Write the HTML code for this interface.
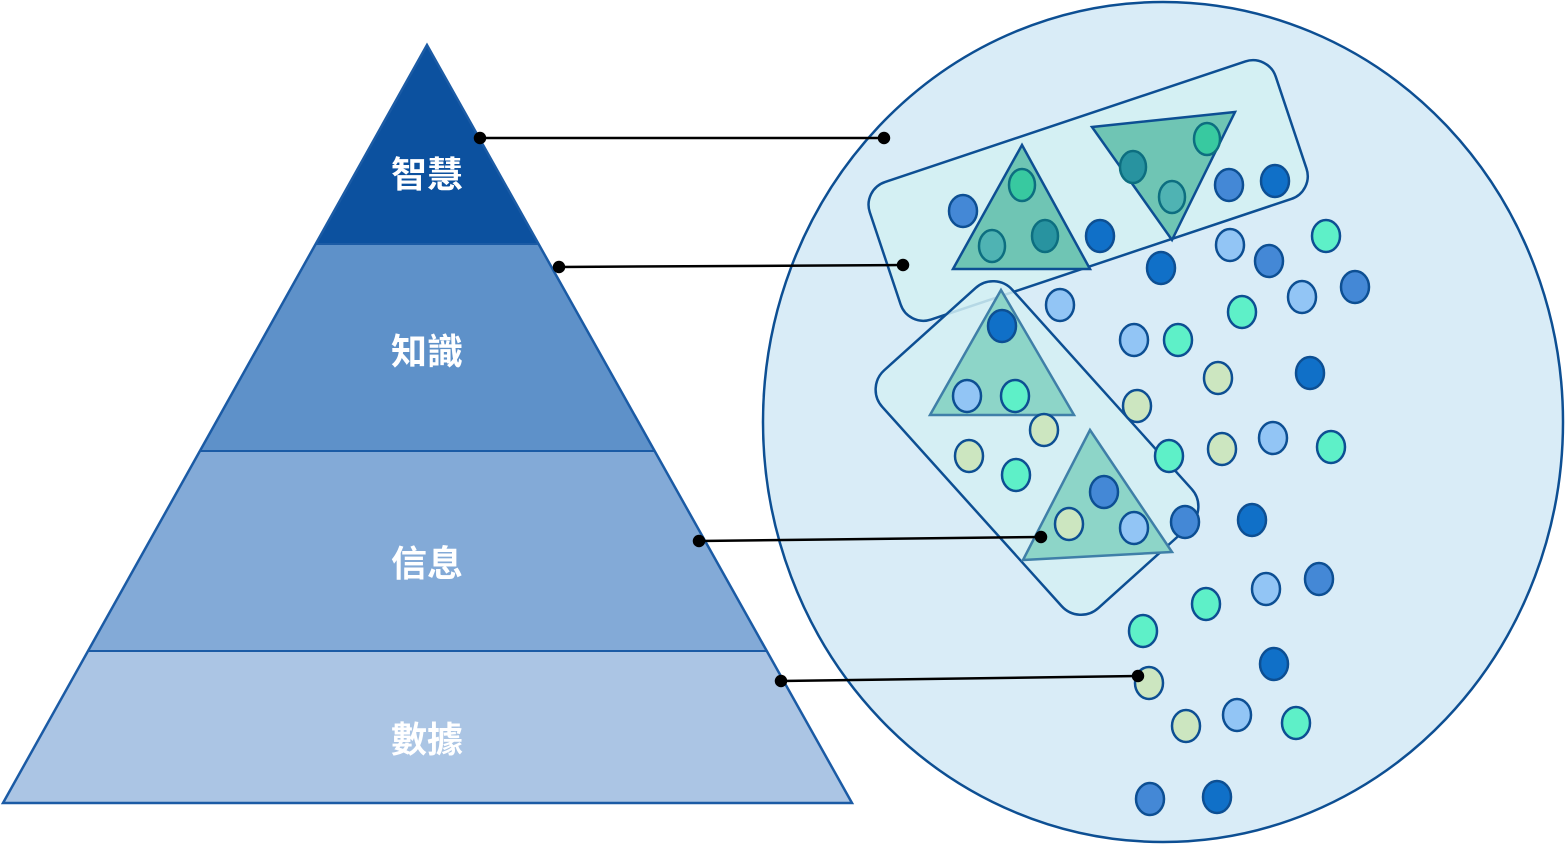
<!DOCTYPE html>
<html><head><meta charset="utf-8"><style>
html,body{margin:0;padding:0;background:#fff;}
svg text{font-family:"Liberation Sans","Noto Sans CJK TC",sans-serif;font-weight:bold;fill:#fff;font-size:36px;text-anchor:middle;}
</style></head><body>
<svg width="1565" height="844" viewBox="0 0 1565 844" xmlns="http://www.w3.org/2000/svg">
<defs>
<clipPath id="pc"><polygon points="427,45 3,803 852,803"/></clipPath>
</defs>
<g clip-path="url(#pc)">
<rect x="0" y="40" width="860" height="204" fill="#0c519f"/>
<rect x="0" y="244" width="860" height="207" fill="#5e91c9"/>
<rect x="0" y="451" width="860" height="200" fill="#83aad7"/>
<rect x="0" y="651" width="860" height="155" fill="#abc5e4"/>
<line x1="0" y1="244" x2="860" y2="244" stroke="#1b5ba5" stroke-width="2"/>
<line x1="0" y1="451" x2="860" y2="451" stroke="#1b5ba5" stroke-width="2"/>
<line x1="0" y1="651" x2="860" y2="651" stroke="#1b5ba5" stroke-width="2"/>
</g>
<polygon points="427,45 3,803 852,803" fill="none" stroke="#1b5ba5" stroke-width="2.5"/>
<text x="427" y="187">智慧</text>
<text x="427" y="364">知識</text>
<text x="427" y="576">信息</text>
<text x="427" y="752">數據</text>

<ellipse cx="1163" cy="422" rx="400" ry="420" fill="#d9ecf7" stroke="#0d4f93" stroke-width="2.5"/>
<rect x="874" y="118" width="428" height="145" rx="24" transform="rotate(-18.5 1088 190)" fill="#d4f0f3" stroke="#0d4f93" stroke-width="2.5"/>
<rect x="877" y="360.5" width="320" height="175" rx="26" transform="rotate(48 1037 448)" fill="#d4f0f3" fill-opacity="0.85" stroke="#0d4f93" stroke-width="2.5"/>

<g stroke="#0d4f93" stroke-width="2.5">
<polygon points="1022,145 953,269 1090,269" fill="#6fc5b4"/>
<polygon points="1092,127 1235,112 1172,240" fill="#6fc5b4"/>
</g>
<g stroke="#3f7fa8" stroke-width="2.5" fill="#8dd5c8">
<polygon points="1001,290 930,415 1074,415"/>
<polygon points="1090,430 1023,560 1172,552"/>
</g>

<g stroke-width="2.5">
<g fill="#4488d6" stroke="#0d4f93">
<ellipse cx="963" cy="211" rx="14" ry="16"/><ellipse cx="1229" cy="185" rx="14" ry="16"/><ellipse cx="1269" cy="261" rx="14" ry="16"/><ellipse cx="1355" cy="287" rx="14" ry="16"/><ellipse cx="1104" cy="492" rx="14" ry="16"/><ellipse cx="1185" cy="522" rx="14" ry="16"/><ellipse cx="1319" cy="579" rx="14" ry="16"/><ellipse cx="1150" cy="799" rx="14" ry="16"/>
</g>
<g fill="#1070c8" stroke="#0d4f93">
<ellipse cx="1100" cy="236" rx="14" ry="16"/><ellipse cx="1275" cy="181" rx="14" ry="16"/><ellipse cx="1161" cy="268" rx="14" ry="16"/><ellipse cx="1002" cy="326" rx="14" ry="16"/><ellipse cx="1310" cy="373" rx="14" ry="16"/><ellipse cx="1252" cy="520" rx="14" ry="16"/><ellipse cx="1274" cy="664" rx="14" ry="16"/><ellipse cx="1217" cy="797" rx="14" ry="16"/>
</g>
<g fill="#92c5f5" stroke="#0d4f93">
<ellipse cx="1230" cy="245" rx="14" ry="16"/><ellipse cx="1302" cy="297" rx="14" ry="16"/><ellipse cx="1060" cy="305" rx="14" ry="16"/><ellipse cx="1134" cy="340" rx="14" ry="16"/><ellipse cx="967" cy="396" rx="14" ry="16"/><ellipse cx="1273" cy="438" rx="14" ry="16"/><ellipse cx="1134" cy="528" rx="14" ry="16"/><ellipse cx="1266" cy="589" rx="14" ry="16"/><ellipse cx="1237" cy="715" rx="14" ry="16"/>
</g>
<g fill="#5ef0c8" stroke="#0d4f93">
<ellipse cx="1326" cy="236" rx="14" ry="16"/><ellipse cx="1242" cy="312" rx="14" ry="16"/><ellipse cx="1178" cy="340" rx="14" ry="16"/><ellipse cx="1015" cy="396" rx="14" ry="16"/><ellipse cx="1016" cy="475" rx="14" ry="16"/><ellipse cx="1169" cy="456" rx="14" ry="16"/><ellipse cx="1331" cy="447" rx="14" ry="16"/><ellipse cx="1206" cy="604" rx="14" ry="16"/><ellipse cx="1143" cy="631" rx="14" ry="16"/><ellipse cx="1296" cy="723" rx="14" ry="16"/>
</g>
<g fill="#cce6c0" stroke="#0d4f93">
<ellipse cx="1044" cy="430" rx="14" ry="16"/><ellipse cx="969" cy="456" rx="14" ry="16"/><ellipse cx="1137" cy="406" rx="14" ry="16"/><ellipse cx="1218" cy="378" rx="14" ry="16"/><ellipse cx="1222" cy="449" rx="14" ry="16"/><ellipse cx="1069" cy="524" rx="14" ry="16"/><ellipse cx="1149" cy="683" rx="14" ry="16"/><ellipse cx="1186" cy="726" rx="14" ry="16"/>
</g>
<g stroke="#0d6e80">
<ellipse cx="1022" cy="185" rx="13" ry="16" fill="#38c9a0"/><ellipse cx="1207" cy="139" rx="13" ry="16" fill="#38c9a0"/>
<ellipse cx="992" cy="246" rx="13" ry="16" fill="#4fb3b3"/><ellipse cx="1172" cy="197" rx="13" ry="16" fill="#4fb3b3"/>
<ellipse cx="1045" cy="236" rx="13" ry="16" fill="#2893a0"/><ellipse cx="1133" cy="167" rx="13" ry="16" fill="#2893a0"/>
</g>
</g>

<g stroke="#000" stroke-width="2.5" fill="#000">
<line x1="480" y1="138" x2="884" y2="138"/><circle cx="480" cy="138" r="5"/><circle cx="884" cy="138" r="5"/>
<line x1="559" y1="267" x2="903" y2="265"/><circle cx="559" cy="267" r="5"/><circle cx="903" cy="265" r="5"/>
<line x1="699" y1="541" x2="1041" y2="537"/><circle cx="699" cy="541" r="5"/><circle cx="1041" cy="537" r="5"/>
<line x1="781" y1="681" x2="1138" y2="676"/><circle cx="781" cy="681" r="5"/><circle cx="1138" cy="676" r="5"/>
</g>
</svg>
</body></html>
